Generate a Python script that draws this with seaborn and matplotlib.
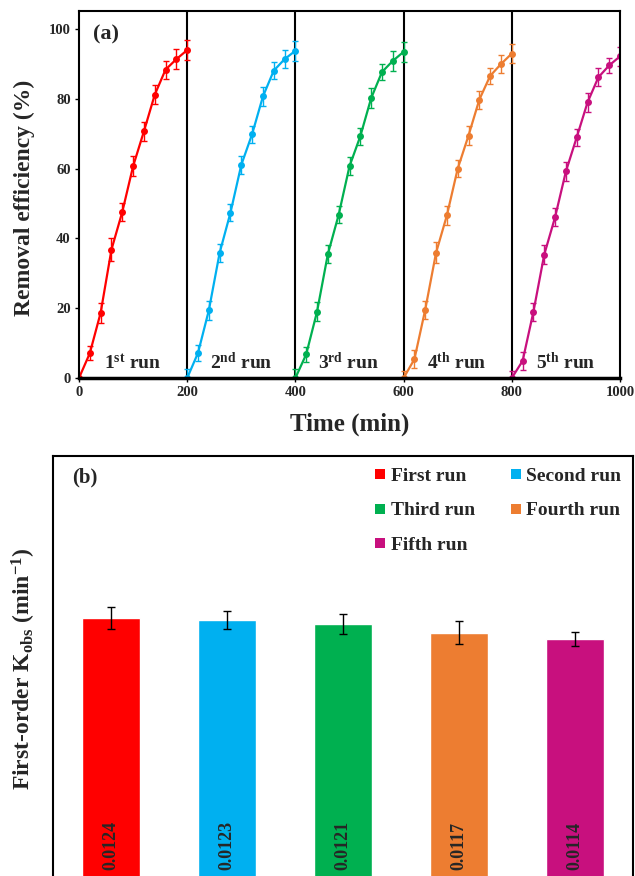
import numpy as np
import pandas as pd
import matplotlib
matplotlib.use("Agg")
import matplotlib.pyplot as plt
import seaborn as sns
from matplotlib.lines import Line2D

# ---------------- data ----------------
run_time = [0, 20, 40, 60, 80, 100, 120, 140, 160, 180, 200]
run1 = [0, 7.1, 18.7, 36.8, 47.6, 60.7, 70.7, 81.2, 88.4, 91.4, 94.0]
run2 = [0, 7.2, 19.4, 35.9, 47.4, 61.1, 69.9, 80.7, 88.1, 91.4, 93.8]
run3 = [0, 6.8, 19.0, 35.5, 46.8, 60.7, 69.3, 80.2, 87.7, 90.9, 93.5]
run4 = [0, 5.4, 19.6, 35.9, 46.6, 60.0, 69.5, 79.8, 86.6, 90.0, 93.0]
run5 = [0, 4.9, 19.0, 35.4, 46.1, 59.2, 69.0, 79.0, 86.2, 89.6, 92.2]
err1 = [0, 2.0, 2.8, 3.2, 2.6, 2.8, 2.8, 2.8, 2.6, 2.9, 2.9]
err2 = [2.5, 2.2, 2.8, 2.6, 2.4, 2.6, 2.4, 2.8, 2.4, 2.6, 2.9]
err3 = [2.5, 2.2, 2.8, 2.6, 2.4, 2.6, 2.4, 2.8, 2.4, 2.8, 2.8]
err4 = [2.0, 2.6, 2.6, 3.0, 2.6, 2.4, 2.6, 2.6, 2.4, 2.6, 2.8]
err5 = [2.0, 2.6, 2.6, 2.6, 2.6, 2.6, 2.4, 2.8, 2.6, 2.2, 2.8]
runs = [run1, run2, run3, run4, run5]
errs = [err1, err2, err3, err4, err5]
run_length = 200
run_labels = [r"1$^{\mathbf{st}}$ run", r"2$^{\mathbf{nd}}$ run", r"3$^{\mathbf{rd}}$ run",
              r"4$^{\mathbf{th}}$ run", r"5$^{\mathbf{th}}$ run"]
run_names = ["First run", "Second run", "Third run", "Fourth run", "Fifth run"]
colors = ["#FF0000", "#00B0F0", "#00B050", "#ED7D31", "#C8107E"]
kobs = [0.0124, 0.0123, 0.0121, 0.0117, 0.0114]
kobs_err = [0.0005, 0.0004, 0.00048, 0.00054, 0.00033]
x_ticks = [0, 200, 400, 600, 800, 1000]
y_ticks = [0, 20, 40, 60, 80, 100]

# ---------------- style ----------------
sns.set_theme(style="white")
plt.rcParams['font.family'] = ['Liberation Serif', 'DejaVu Serif']
plt.rcParams['font.weight'] = 'bold'
plt.rcParams['mathtext.fontset'] = 'custom'
plt.rcParams['mathtext.rm'] = 'Liberation Serif:bold'
plt.rcParams['mathtext.bf'] = 'Liberation Serif:bold'
plt.rcParams['mathtext.it'] = 'Liberation Serif:bold:italic'
plt.rcParams['mathtext.default'] = 'bf'

fig = plt.figure(figsize=(6.35, 8.76), dpi=100)
W, H = 635, 876

def axes_px(l, t, r, b):
    return fig.add_axes([l / W, (H - b) / H, (r - l) / W, (b - t) / H])

# ---------------- panel (a) ----------------
ax1 = axes_px(79, 11, 620, 378)
rows = []
for i, vals in enumerate(runs):
    for t, v in zip(run_time, vals):
        rows.append({"time": i * run_length + t, "removal": v, "run": run_names[i]})
df = pd.DataFrame(rows)
sns.lineplot(data=df, x="time", y="removal", hue="run", palette=colors,
             marker="o", markersize=5, markeredgewidth=0, linewidth=1.6,
             legend=False, sort=False, ax=ax1)
for i, (vals, e) in enumerate(zip(runs, errs)):
    xs = [i * run_length + t for t in run_time]
    ax1.errorbar(xs, vals, yerr=e, fmt="none", ecolor=colors[i],
                 elinewidth=1.0, capsize=2.5, capthick=1.0)
    ax1.text(i * run_length + 99, 2.6, run_labels[i], ha="center", va="baseline",
             fontsize=14, fontweight="bold")
for i in range(1, len(runs)):
    ax1.axvline(i * run_length, color="black", lw=1.5, zorder=1)

ax1.set_xlim(0, 1000)
ax1.set_ylim(0, 105.2)
ax1.set_xticks(x_ticks)
ax1.set_yticks(y_ticks)
ax1.tick_params(axis="both", direction="out", length=3, width=1, labelsize=10.5,
                color="black", pad=3, bottom=True, left=True)
for lab in ax1.get_xticklabels() + ax1.get_yticklabels():
    lab.set_fontweight("bold")
for s in ax1.spines.values():
    s.set_color("black")
    s.set_linewidth(1.5)
ax1.spines["bottom"].set_linewidth(2.5)
ax1.set_xlabel("Time (min)", fontsize=18, fontweight="bold", va="top")
ax1.xaxis.set_label_coords(0.5, -0.093)
ax1.set_ylabel("Removal efficiency (%)", fontsize=17, fontweight="bold")
ax1.yaxis.set_label_coords(-0.081, 0.49)
ax1.text(0.026, 0.935, "(a)", transform=ax1.transAxes, fontsize=16,
         fontweight="bold", ha="left", va="center")

# ---------------- panel (b) ----------------
ax2 = axes_px(53, 456, 633, 882)
sns.barplot(x=run_names, y=kobs, hue=run_names, palette=colors, width=0.5,
            legend=False, saturation=1, ax=ax2)
ax2.errorbar(range(len(kobs)), kobs, yerr=kobs_err, fmt="none", ecolor="black",
             elinewidth=1.0, capsize=3, capthick=1.0)
for i, v in enumerate(kobs):
    ax2.text(i, 0.0017, f"{v:.4f}", rotation=90, ha="center", va="center",
             fontsize=13, fontweight="bold")
ax2.set_xlim(-0.5, 4.5)
ax2.set_ylim(0, 0.0200)
ax2.set_xticks([])
ax2.set_yticks([])
for s in ax2.spines.values():
    s.set_color("black")
    s.set_linewidth(1.5)
ax2.set_ylabel(r"First-order K$_{\mathbf{obs}}$ (min$^{\mathbf{-1}}$)",
               fontsize=17, fontweight="bold")
ax2.yaxis.set_label_coords(-0.026, 0.5)
ax2.text(0.033, 0.95, "(b)", transform=ax2.transAxes, fontsize=15,
         fontweight="bold", ha="left", va="center")

# legend filled row by row (matplotlib fills columns first, so reorder)
order = [0, 2, 4, 1, 3]
handles = [Line2D([], [], marker="s", linestyle="none", markersize=7,
                  markerfacecolor=colors[k], markeredgewidth=0) for k in order]
labels = [run_names[k] for k in order]
ax2.legend(handles, labels, ncol=2, loc="upper right", frameon=False,
           prop={"size": 14, "weight": "bold"}, handlelength=0.6,
           handletextpad=0.25, columnspacing=1.8, labelspacing=0.85,
           borderaxespad=0.2, bbox_to_anchor=(1.0, 1.0))

fig.savefig("out.png", dpi=100)
